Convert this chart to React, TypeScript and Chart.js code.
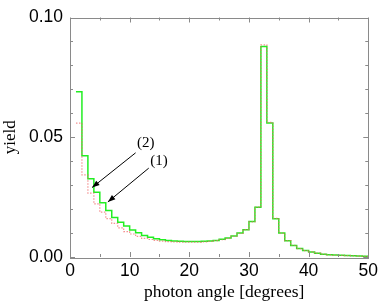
import React, { useEffect, useRef } from "react";
import { Chart, registerables } from "chart.js";

Chart.register(...registerables);

const binStarts = [1,2,3,4,5,6,7,8,9,10,11,12,13,14,15,16,17,18,19,20,21,22,23,24,25,26,27,28,29,30,31,32,33,34,35,36,37,38,39,40,41,42,43,44,45,46,47,48,49];
const greenYield = [0.069,0.0423,0.0327,0.027,0.0226,0.0194,0.0165,0.0145,0.0129,0.0113,0.0101,0.009,0.0082,0.0076,0.0072,0.0069,0.0067,0.0066,0.0065,0.0065,0.0065,0.0066,0.0067,0.0069,0.0074,0.0079,0.0088,0.01,0.0114,0.0148,0.0208,0.0879,0.056,0.016,0.01,0.0068,0.0048,0.0035,0.0027,0.0021,0.0016,0.0012,0.0009,0.0008,0.0007,0.0006,0.0005,0.0004,0.0003];
const redYield = [0.0559,0.0343,0.0267,0.0222,0.0187,0.016,0.014,0.0122,0.0106,0.0096,0.0086,0.0078,0.0073,0.0069,0.0066,0.0064,0.0063,0.0062,0.0062,0.0062,0.0062,0.0063,0.0065,0.0068,0.0072,0.0078,0.0087,0.0099,0.0114,0.0147,0.0208,0.0886,0.0562,0.0161,0.01,0.0068,0.0049,0.0035,0.0027,0.0021,0.0016,0.0012,0.0009,0.0008,0.0007,0.0006,0.0005,0.0004,0.0003];
const xEnd = 50;
const xTicks = [0, 10, 20, 30, 40, 50];
const yTicks = [0, 0.05, 0.1];
const xTitle = "photon angle [degrees]";

// annotations: label text, label position, arrow tail, arrow head (data coords)
const annotations = [
  { text: "(2)", lx: 12.7, ly: 0.0476, tx: 11.0, ty: 0.0435, hx: 3.7, hy: 0.029 },
  { text: "(1)", lx: 14.9, ly: 0.0400, tx: 13.2, ty: 0.0371, hx: 6.35, hy: 0.023 },
];

function toPoints(starts: number[], vals: number[]) {
  const pts = starts.map((x, i) => ({ x, y: vals[i] }));
  pts.push({ x: xEnd, y: vals[vals.length - 1] });
  return pts;
}

const framePlugin = {
  id: "frameTicks",
  afterDatasetsDraw(chart: any) {
    const { ctx, chartArea: a, scales } = chart;
    const xs = scales.x, ys = scales.y;
    ctx.save();
    ctx.strokeStyle = "#8a8a8a";
    ctx.lineWidth = 1;
    ctx.strokeRect(Math.round(a.left) + 0.5, Math.round(a.top) + 0.5, Math.round(a.right - a.left), Math.round(a.bottom - a.top));
    ctx.beginPath();
    for (let v = 0; v <= 50; v += 5) {
      const px = Math.round(xs.getPixelForValue(v)) + 0.5;
      const len = v % 10 === 0 ? 5 : 3;
      ctx.moveTo(px, a.bottom); ctx.lineTo(px, a.bottom - len);
      ctx.moveTo(px, a.top); ctx.lineTo(px, a.top + len);
    }
    for (let i = 0; i <= 10; i++) {
      const v = i / 100;
      const py = Math.round(ys.getPixelForValue(v)) + 0.5;
      const len = i % 5 === 0 ? 5 : 3;
      ctx.moveTo(a.left, py); ctx.lineTo(a.left + len, py);
      ctx.moveTo(a.right, py); ctx.lineTo(a.right - len, py);
    }
    ctx.stroke();

    // annotations
    ctx.strokeStyle = "#000";
    ctx.fillStyle = "#000";
    ctx.font = "15px 'Liberation Serif', serif";
    ctx.textAlign = "center";
    ctx.textBaseline = "middle";
    annotations.forEach((an) => {
      const tx = xs.getPixelForValue(an.tx), ty = ys.getPixelForValue(an.ty);
      const hx = xs.getPixelForValue(an.hx), hy = ys.getPixelForValue(an.hy);
      ctx.beginPath();
      ctx.moveTo(tx, ty); ctx.lineTo(hx, hy);
      ctx.lineWidth = 1;
      ctx.stroke();
      const ang = Math.atan2(hy - ty, hx - tx);
      const L = 8, W = 0.35;
      ctx.beginPath();
      ctx.moveTo(hx, hy);
      ctx.lineTo(hx - L * Math.cos(ang - W), hy - L * Math.sin(ang - W));
      ctx.lineTo(hx - L * Math.cos(ang + W), hy - L * Math.sin(ang + W));
      ctx.closePath();
      ctx.fill();
      ctx.fillText(an.text, xs.getPixelForValue(an.lx), ys.getPixelForValue(an.ly));
    });

    // x axis title (slightly right of plot centre, as in the reference)
    ctx.font = "17.5px 'Liberation Serif', serif";
    ctx.textAlign = "center";
    ctx.textBaseline = "alphabetic";
    ctx.fillText(xTitle, (a.left + a.right) / 2 + 5, 297);
    ctx.restore();
  },
};

export default function App() {
  const ref = useRef<HTMLCanvasElement | null>(null);
  useEffect(() => {
    if (!ref.current) return;
    const chart = new Chart(ref.current, {
      type: "line",
      data: {
        datasets: [
          {
            label: "(2)",
            data: toPoints(binStarts, greenYield),
            stepped: "before",
            borderColor: "#22ee22",
            borderWidth: 1.5,
            pointRadius: 0,
            fill: false,
            order: 2,
          },
          {
            label: "(1)",
            data: toPoints(binStarts, redYield),
            stepped: "before",
            borderColor: "rgba(240,100,100,0.7)",
            borderWidth: 1.2,
            borderDash: [1.5, 1.5],
            pointRadius: 0,
            fill: false,
            order: 1,
          },
        ],
      },
      options: {
        animation: false,
        responsive: true,
        maintainAspectRatio: false,
        layout: { padding: { top: 9, right: 13, left: 0, bottom: 0 } },
        plugins: { legend: { display: false }, tooltip: { enabled: false } },
        scales: {
          x: {
            type: "linear",
            min: 0,
            max: 50,
            afterBuildTicks: (s: any) => { s.ticks = xTicks.map((v) => ({ value: v })); },
            afterFit: (s: any) => { s.height = 47; },
            grid: { display: false, drawTicks: false },
            border: { display: false },
            ticks: { color: "#000", font: { family: "'Liberation Sans', Arial, sans-serif", size: 17.5 }, padding: 4, maxRotation: 0 },
            title: { display: false },
          },
          y: {
            type: "linear",
            min: 0,
            max: 0.1,
            afterBuildTicks: (s: any) => { s.ticks = yTicks.map((v) => ({ value: v })); },
            afterFit: (s: any) => { s.width = 70; },
            grid: { display: false, drawTicks: false },
            border: { display: false },
            ticks: { color: "#000", font: { family: "'Liberation Sans', Arial, sans-serif", size: 17.5 }, padding: 7, callback: (v: any) => Number(v).toFixed(2) },
            title: { display: true, text: "yield", color: "#000", font: { family: "'Liberation Serif', serif", size: 17 }, padding: { top: 0, bottom: 0 } },
          },
        },
      },
      plugins: [framePlugin],
    } as any);
    return () => chart.destroy();
  }, []);
  return (
    <div style={{ position: "fixed", left: 0, top: 0, width: 382, height: 304, background: "#fff" }}>
      <canvas ref={ref} />
    </div>
  );
}
